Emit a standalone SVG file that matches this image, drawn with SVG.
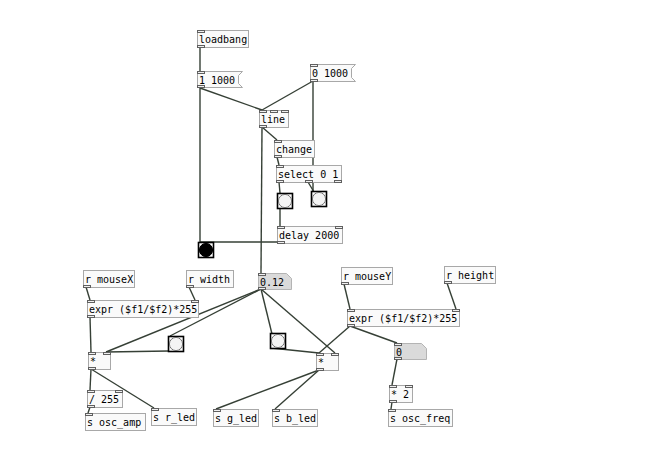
<svg xmlns="http://www.w3.org/2000/svg" width="663" height="475" viewBox="0 0 663 475">
<style>
  .obj { fill: #fafafa; stroke: #a8a8a8; stroke-width: 1; }
  .num { fill: #dadada; stroke: #b4b4b4; stroke-width: 1; }
  .io { fill: #f0f0f0; stroke: #606060; stroke-width: 1; }
  .bng { fill: #ffffff; stroke: #000000; stroke-width: 1.6; }
  .led { fill: #f4f4f4; stroke: #707070; stroke-width: 1; }
  .hit { fill: #000000; stroke: #000000; stroke-width: 1; }
  .cords line { stroke: #364036; stroke-width: 1.4; }
  text { font-family: "DejaVu Sans Mono", "Liberation Mono", monospace; font-size: 10px; fill: #000; }
</style>
<rect width="663" height="475" fill="#ffffff"/>

<!-- connections -->
<g id="cords" class="cords">
  <line x1="200" y1="47" x2="200" y2="71"/>
  <line x1="200" y1="88" x2="262" y2="110"/>
  <line x1="200" y1="88" x2="200" y2="242"/>
  <line x1="313" y1="81" x2="262" y2="110"/>
  <line x1="313" y1="81" x2="313" y2="192"/>
  <line x1="262" y1="127" x2="277" y2="140"/>
  <line x1="262" y1="127" x2="261" y2="273"/>
  <line x1="277" y1="157" x2="279" y2="165"/>
  <line x1="279" y1="182" x2="280" y2="193"/>
  <line x1="308" y1="182" x2="314" y2="192"/>
  <line x1="280" y1="209" x2="280" y2="226"/>
  <line x1="280" y1="242" x2="200" y2="242"/>
  <line x1="261" y1="289" x2="106" y2="352"/>
  <line x1="261" y1="289" x2="170" y2="336"/>
  <line x1="261" y1="289" x2="272" y2="334"/>
  <line x1="261" y1="289" x2="335" y2="353"/>
  <line x1="86" y1="287" x2="90" y2="300"/>
  <line x1="189" y1="287" x2="195" y2="300"/>
  <line x1="90" y1="317" x2="91" y2="352"/>
  <line x1="169" y1="351" x2="106" y2="352"/>
  <line x1="91" y1="369" x2="90" y2="390"/>
  <line x1="91" y1="369" x2="154" y2="408"/>
  <line x1="90" y1="407" x2="88" y2="413"/>
  <line x1="344" y1="284" x2="350" y2="309"/>
  <line x1="447" y1="283" x2="456" y2="309"/>
  <line x1="350" y1="326" x2="319" y2="353"/>
  <line x1="350" y1="326" x2="397" y2="343"/>
  <line x1="271" y1="348" x2="319" y2="353"/>
  <line x1="319" y1="370" x2="216" y2="409"/>
  <line x1="319" y1="370" x2="275" y2="409"/>
  <line x1="397" y1="359" x2="392" y2="385"/>
  <line x1="392" y1="402" x2="391" y2="409"/>
</g>

<!-- loadbang -->
<g id="loadbang">
  <rect class="obj" x="197.5" y="30.5" width="51" height="17"/>
  <rect class="io" x="197.5" y="30.5" width="7" height="2"/>
  <rect class="io" x="197.5" y="45.5" width="7" height="2"/>
  <text x="199" y="43">loadbang</text>
</g>

<!-- message 1 1000 -->
<g id="msg-1-1000">
  <path class="obj" d="M197.5 71.5 H242.5 L238.5 75.5 V83.5 L242.5 87.5 H197.5 Z"/>
  <rect class="io" x="197.5" y="71.5" width="7" height="2"/>
  <rect class="io" x="197.5" y="85.5" width="7" height="2"/>
  <text x="199" y="84">1 1000</text>
</g>

<!-- message 0 1000 -->
<g id="msg-0-1000">
  <path class="obj" d="M310.5 64.5 H355.5 L351.5 68.5 V77.5 L355.5 81.5 H310.5 Z"/>
  <rect class="io" x="310.5" y="64.5" width="7" height="2"/>
  <rect class="io" x="310.5" y="79.5" width="7" height="2"/>
  <text x="312" y="77">0 1000</text>
</g>

<!-- line -->
<g id="line">
  <rect class="obj" x="259.5" y="110.5" width="29" height="17"/>
  <rect class="io" x="259.5" y="110.5" width="7" height="2"/>
  <rect class="io" x="270.5" y="110.5" width="7" height="2"/>
  <rect class="io" x="281.5" y="110.5" width="7" height="2"/>
  <rect class="io" x="259.5" y="125.5" width="7" height="2"/>
  <text x="261" y="123">line</text>
</g>

<!-- change -->
<g id="change">
  <rect class="obj" x="274.5" y="140.5" width="40" height="17"/>
  <rect class="io" x="274.5" y="140.5" width="7" height="2"/>
  <rect class="io" x="274.5" y="155.5" width="7" height="2"/>
  <text x="276" y="153">change</text>
</g>

<!-- select 0 1 -->
<g id="select">
  <rect class="obj" x="276.5" y="165.5" width="65" height="17"/>
  <rect class="io" x="276.5" y="165.5" width="7" height="2"/>
  <rect class="io" x="276.5" y="180.5" width="7" height="2"/>
  <rect class="io" x="305.5" y="180.5" width="7" height="2"/>
  <rect class="io" x="334.5" y="180.5" width="7" height="2"/>
  <text x="278" y="178">select 0 1</text>
</g>

<!-- bangs under select -->
<g id="bang-a">
  <rect class="bng" x="277.5" y="193.5" width="15" height="15"/>
  <circle class="led" cx="285" cy="201" r="6.6"/>
</g>
<g id="bang-b">
  <rect class="bng" x="311.5" y="191.5" width="15" height="15"/>
  <circle class="led" cx="319" cy="199" r="6.6"/>
</g>

<!-- delay 2000 -->
<g id="delay">
  <rect class="obj" x="277.5" y="226.5" width="65" height="17"/>
  <rect class="io" x="277.5" y="226.5" width="7" height="2"/>
  <rect class="io" x="335.5" y="226.5" width="7" height="2"/>
  <rect class="io" x="277.5" y="241.5" width="7" height="2"/>
  <text x="279" y="239">delay 2000</text>
</g>

<!-- active bang -->
<g id="bang-hit">
  <rect class="bng" x="198.5" y="242.5" width="15" height="15"/>
  <circle class="hit" cx="206" cy="250" r="6.6"/>
</g>

<!-- number 0.12 -->
<g id="num-level">
  <path class="num" d="M258.5 273.5 H286.5 L291.5 278.5 V289.5 H258.5 Z"/>
  <rect class="io" x="258.5" y="273.5" width="7" height="2"/>
  <rect class="io" x="258.5" y="287.5" width="7" height="2"/>
  <text x="260" y="286">0.12</text>
</g>

<!-- r mouseX -->
<g id="r-mouseX">
  <rect class="obj" x="83.5" y="270.5" width="51" height="17"/>
  <rect class="io" x="83.5" y="285.5" width="7" height="2"/>
  <text x="85" y="283">r mouseX</text>
</g>

<!-- r width -->
<g id="r-width">
  <rect class="obj" x="186.5" y="270.5" width="47" height="17"/>
  <rect class="io" x="186.5" y="285.5" width="7" height="2"/>
  <text x="188" y="283">r width</text>
</g>

<!-- expr x -->
<g id="expr-x">
  <rect class="obj" x="87.5" y="300.5" width="111" height="17"/>
  <rect class="io" x="87.5" y="300.5" width="7" height="2"/>
  <rect class="io" x="191.5" y="300.5" width="7" height="2"/>
  <rect class="io" x="87.5" y="315.5" width="7" height="2"/>
  <text x="89" y="313">expr ($f1/$f2)*255</text>
</g>

<!-- r mouseY -->
<g id="r-mouseY">
  <rect class="obj" x="341.5" y="267.5" width="51" height="17"/>
  <rect class="io" x="341.5" y="282.5" width="7" height="2"/>
  <text x="343" y="280">r mouseY</text>
</g>

<!-- r height -->
<g id="r-height">
  <rect class="obj" x="444.5" y="266.5" width="51" height="17"/>
  <rect class="io" x="444.5" y="281.5" width="7" height="2"/>
  <text x="446" y="279">r height</text>
</g>

<!-- expr y -->
<g id="expr-y">
  <rect class="obj" x="347.5" y="309.5" width="112" height="17"/>
  <rect class="io" x="347.5" y="309.5" width="7" height="2"/>
  <rect class="io" x="452.5" y="309.5" width="7" height="2"/>
  <rect class="io" x="347.5" y="324.5" width="7" height="2"/>
  <text x="349" y="322">expr ($f1/$f2)*255</text>
</g>

<!-- multiply left -->
<g id="mul-a">
  <rect class="obj" x="88.5" y="352.5" width="22" height="17"/>
  <rect class="io" x="88.5" y="352.5" width="7" height="2"/>
  <rect class="io" x="103.5" y="352.5" width="7" height="2"/>
  <rect class="io" x="88.5" y="367.5" width="7" height="2"/>
  <text x="90" y="365">*</text>
</g>

<!-- bang left -->
<g id="bang-c">
  <rect class="bng" x="168.5" y="336.5" width="15" height="15"/>
  <circle class="led" cx="176" cy="344" r="6.6"/>
</g>

<!-- bang middle -->
<g id="bang-d">
  <rect class="bng" x="270.5" y="333.5" width="15" height="15"/>
  <circle class="led" cx="278" cy="341" r="6.6"/>
</g>

<!-- multiply right -->
<g id="mul-b">
  <rect class="obj" x="316.5" y="353.5" width="22" height="17"/>
  <rect class="io" x="316.5" y="353.5" width="7" height="2"/>
  <rect class="io" x="331.5" y="353.5" width="7" height="2"/>
  <rect class="io" x="316.5" y="368.5" width="7" height="2"/>
  <text x="318" y="366">*</text>
</g>

<!-- number 0 -->
<g id="num-freq">
  <path class="num" d="M394.5 343.5 H421.5 L426.5 348.5 V359.5 H394.5 Z"/>
  <rect class="io" x="394.5" y="343.5" width="7" height="2"/>
  <rect class="io" x="394.5" y="357.5" width="7" height="2"/>
  <text x="396" y="356">0</text>
</g>

<!-- * 2 -->
<g id="mul-2">
  <rect class="obj" x="389.5" y="385.5" width="23" height="17"/>
  <rect class="io" x="389.5" y="385.5" width="7" height="2"/>
  <rect class="io" x="405.5" y="385.5" width="7" height="2"/>
  <rect class="io" x="389.5" y="400.5" width="7" height="2"/>
  <text x="391" y="398">* 2</text>
</g>

<!-- / 255 -->
<g id="div-255">
  <rect class="obj" x="87.5" y="390.5" width="35" height="17"/>
  <rect class="io" x="87.5" y="390.5" width="7" height="2"/>
  <rect class="io" x="115.5" y="390.5" width="7" height="2"/>
  <rect class="io" x="87.5" y="405.5" width="7" height="2"/>
  <text x="89" y="403">/ 255</text>
</g>

<!-- sends -->
<g id="s-osc-amp">
  <rect class="obj" x="85.5" y="413.5" width="60" height="17"/>
  <rect class="io" x="85.5" y="413.5" width="7" height="2"/>
  <text x="87" y="426">s osc_amp</text>
</g>
<g id="s-r-led">
  <rect class="obj" x="151.5" y="408.5" width="45" height="17"/>
  <rect class="io" x="151.5" y="408.5" width="7" height="2"/>
  <text x="153" y="421">s r_led</text>
</g>
<g id="s-g-led">
  <rect class="obj" x="213.5" y="409.5" width="45" height="17"/>
  <rect class="io" x="213.5" y="409.5" width="7" height="2"/>
  <text x="215" y="422">s g_led</text>
</g>
<g id="s-b-led">
  <rect class="obj" x="272.5" y="409.5" width="45" height="17"/>
  <rect class="io" x="272.5" y="409.5" width="7" height="2"/>
  <text x="274" y="422">s b_led</text>
</g>
<g id="s-osc-freq">
  <rect class="obj" x="388.5" y="409.5" width="64" height="17"/>
  <rect class="io" x="388.5" y="409.5" width="7" height="2"/>
  <text x="390" y="422">s osc_freq</text>
</g>
</svg>
